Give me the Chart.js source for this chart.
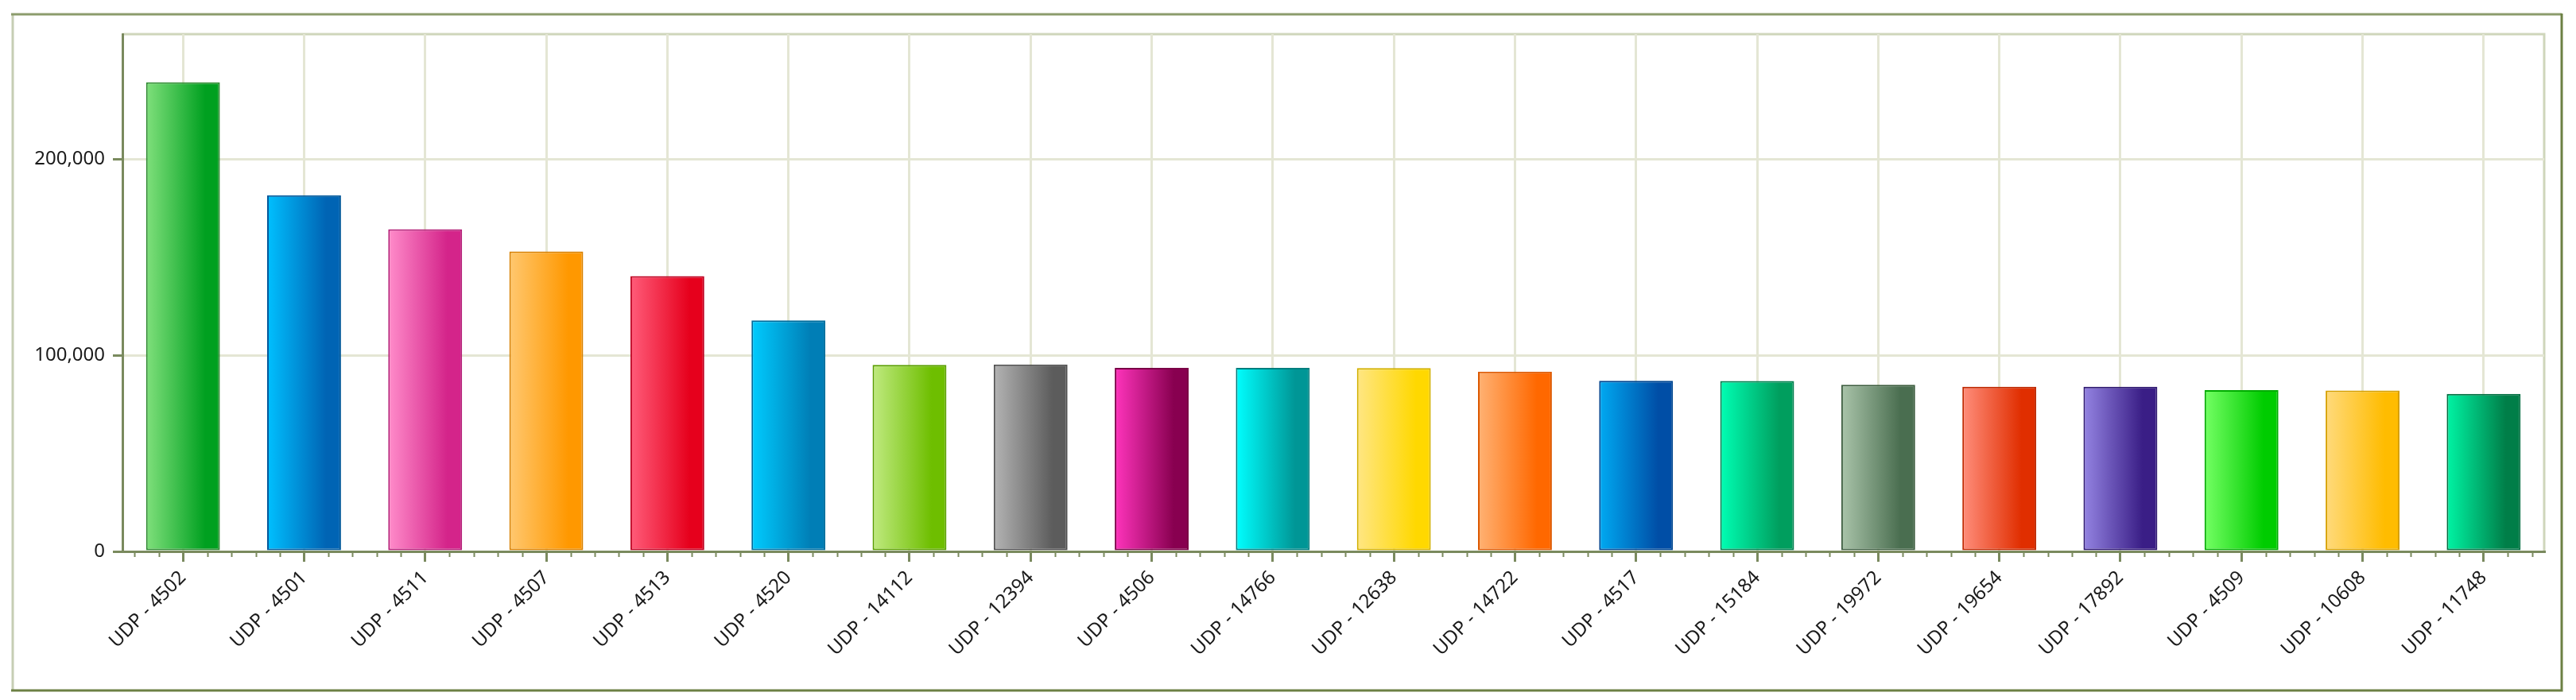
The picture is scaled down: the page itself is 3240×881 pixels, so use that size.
<!DOCTYPE html>
<html>
<head>
<meta charset="utf-8">
<script src="https://cdn.jsdelivr.net/npm/chart.js@4/dist/chart.umd.min.js"></script>
<style>
  html, body { margin: 0; padding: 0; background: #fff; }
  #wrap { width: 3240px; height: 881px; position: relative; }
</style>
</head>
<body>
<div id="wrap"><canvas id="chart"></canvas></div>
<script>
const labels = ['UDP - 4502', 'UDP - 4501', 'UDP - 4511', 'UDP - 4507', 'UDP - 4513',
  'UDP - 4520', 'UDP - 14112', 'UDP - 12394', 'UDP - 4506', 'UDP - 14766',
  'UDP - 12638', 'UDP - 14722', 'UDP - 4517', 'UDP - 15184', 'UDP - 19972',
  'UDP - 19654', 'UDP - 17892', 'UDP - 4509', 'UDP - 10608', 'UDP - 11748'];

const values = [239100, 181500, 164200, 152900, 140300,
  117700, 95100, 95300, 93500, 93500,
  93400, 91600, 87000, 86900, 84900,
  83900, 83900, 82200, 82000, 80300];

const yTicks = [0, 100000, 200000];
const yMax = 263600;

// gradient stops per bar (left -> right) and outline
const lightColors = ['#80e07c', '#00c0ff', '#ff8cca', '#ffc870', '#ff5c7a',
  '#00ccff', '#c0ea80', '#b4b4b4', '#ff34bc', '#00ffff',
  '#ffe684', '#ffb274', '#00aaf2', '#00ffb4', '#aac4aa',
  '#ff8e7c', '#9484e2', '#74ff64', '#ffda7c', '#00f4a4'];
const darkColors = ['#00a020', '#0064b4', '#d4248a', '#ff9800', '#e6001c',
  '#007eb6', '#6ebe00', '#5c5c5c', '#880050', '#009696',
  '#ffd800', '#ff6800', '#004ea6', '#009e5e', '#4a6e50',
  '#e02e00', '#3a1e86', '#00cc00', '#ffbc00', '#007e48'];
const edgeColors = ['#2e8a30', '#00589a', '#b42078', '#d88000', '#be0020',
  '#006c9c', '#5a9e00', '#4e4e4e', '#7a0046', '#007e7e',
  '#d2b000', '#dc5800', '#004690', '#007e4e', '#3e5e40',
  '#be2800', '#2e1870', '#00ac00', '#d6a000', '#006e40'];

const axisColor = '#7a8a5e';
const gridColor = '#e4e6d4';
const barPct = 0.61;
const labelAngle = 45;

function barFill(ctx) {
  const chart = ctx.chart;
  const i = ctx.dataIndex;
  const x = chart.scales.x;
  if (!x || !chart.chartArea || i === undefined) return darkColors[i || 0];
  const c = x.getPixelForValue(i);
  const half = (x.width / labels.length) * barPct / 2;
  const g = chart.ctx.createLinearGradient(c - half, 0, c + half, 0);
  g.addColorStop(0, lightColors[i]);
  g.addColorStop(0.8, darkColors[i]);
  g.addColorStop(1, darkColors[i]);
  return g;
}

// frame, plot box and minor ticks on the category axis
const decor = {
  id: 'decor',
  beforeDraw(chart) {
    const c = chart.ctx;
    const a = chart.chartArea;
    c.save();
    c.fillStyle = '#fff';
    c.fillRect(0, 0, chart.width, chart.height);
    c.lineWidth = 3;
    c.strokeStyle = '#c6ceb4';
    c.beginPath(); c.moveTo(16, 18); c.lineTo(16, 869); c.stroke();
    c.strokeStyle = '#8c9c6c';
    c.beginPath(); c.moveTo(14, 18); c.lineTo(3222, 18); c.stroke();
    c.strokeStyle = '#6c8044';
    c.beginPath(); c.moveTo(3222, 17); c.lineTo(3222, 869); c.lineTo(14, 869); c.stroke();
    c.strokeStyle = '#cfd6bb';
    c.lineWidth = 3;
    c.beginPath(); c.moveTo(a.left, a.top); c.lineTo(a.right, a.top); c.lineTo(a.right, a.bottom); c.stroke();
    c.restore();
  },
  afterDraw(chart) {
    const c = chart.ctx;
    const x = chart.scales.x;
    const y0 = chart.chartArea.bottom;
    c.save();
    c.strokeStyle = axisColor;
    c.lineWidth = 2;
    for (let i = -2; i <= labels.length * 5 - 3; i++) {
      if (i % 5 === 0) continue;
      const px = Math.round(x.getPixelForValue(i / 5)) + 0.5;
      c.beginPath(); c.moveTo(px, y0); c.lineTo(px, y0 + 7); c.stroke();
    }
    c.restore();
  }
};

Chart.defaults.font.family = '"Noto Sans", "Liberation Sans", sans-serif';
Chart.defaults.font.size = 24;
Chart.defaults.color = '#1a1a1a';

const ctx = document.getElementById('chart').getContext('2d');
const chart = new Chart(ctx, {
  type: 'bar',
  data: {
    labels: labels,
    datasets: [{
      data: values,
      backgroundColor: barFill,
      borderColor: edgeColors,
      borderWidth: 2,
      borderSkipped: false,
      barPercentage: barPct,
      categoryPercentage: 1
    }]
  },
  options: {
    responsive: true,
    maintainAspectRatio: false,
    animation: false,
    layout: { padding: { left: 0, top: 43, right: 40, bottom: 0 } },
    plugins: {
      legend: { display: false },
      tooltip: { enabled: false }
    },
    scales: {
      x: {
        offset: true,
        afterCalculateLabelRotation(scale) { scale.labelRotation = labelAngle; },
        afterFit(scale) { scale.height = 187; },
        grid: {
          offset: false,
          color: gridColor,
          lineWidth: 3,
          tickColor: axisColor,
          tickLength: 13,
          drawOnChartArea: true
        },
        border: { color: axisColor, width: 3 },
        ticks: {
          minRotation: labelAngle,
          maxRotation: labelAngle,
          autoSkip: false,
          padding: 6,
          font: { size: 24 }
        }
      },
      y: {
        min: 0,
        max: yMax,
        afterFit(scale) { scale.width = 154; },
        afterBuildTicks(scale) { scale.ticks = yTicks.map(v => ({ value: v })); },
        grid: {
          color: gridColor,
          lineWidth: 3,
          tickColor: axisColor,
          tickLength: 12
        },
        border: { color: axisColor, width: 3 },
        ticks: {
          padding: 10,
          font: { size: 24 },
          callback: v => v.toLocaleString('en-US')
        }
      }
    }
  },
  plugins: [decor]
});
</script>
</body>
</html>
